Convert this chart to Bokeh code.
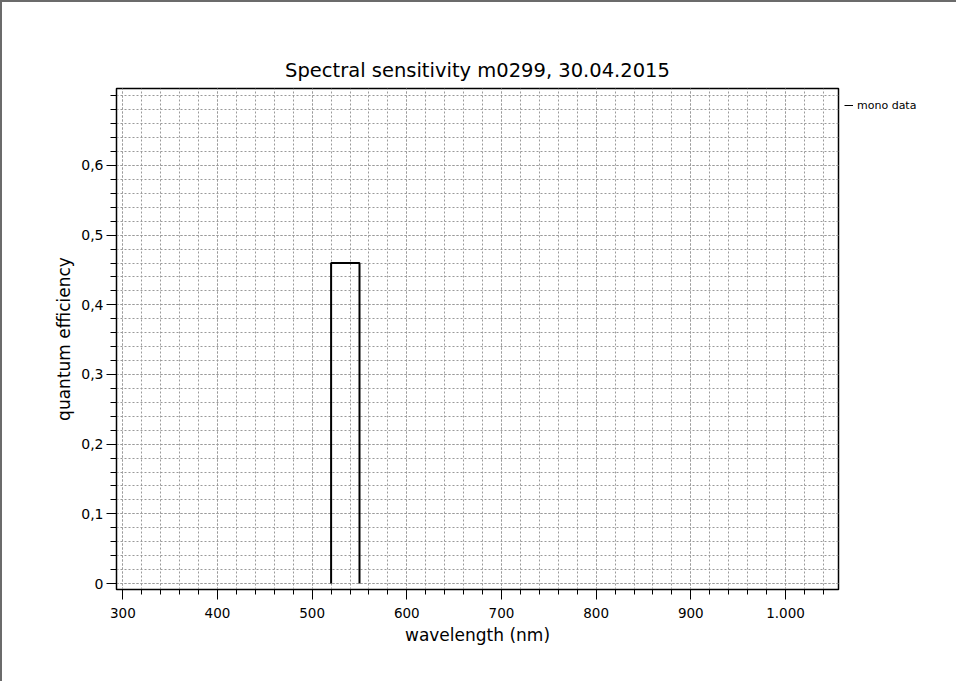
from bokeh.plotting import figure
from bokeh.layouts import row
from bokeh.models import FixedTicker, Range1d, Legend, LegendItem
from bokeh.embed import file_html
from bokeh.resources import INLINE

# data
wavelength = [520, 520, 550, 550]
efficiency = [0.0, 0.46, 0.46, 0.0]

# ticks
x_major = [300, 400, 500, 600, 700, 800, 900, 1000]
x_labels = ["300", "400", "500", "600", "700", "800", "900", "1.000"]
x_minor = list(range(300, 1041, 20))
y_major = [0.0, 0.1, 0.2, 0.3, 0.4, 0.5, 0.6]
y_labels = ["0", "0,1", "0,2", "0,3", "0,4", "0,5", "0,6"]
y_minor = [round(i * 0.02, 2) for i in range(36)]

FONT = "DejaVu Sans"
FW, FH = 722, 501
B_TOP, B_BOTTOM = 86, 92

p = figure(frame_width=FW, frame_height=FH,
           x_range=Range1d(293.3, 1056.0), y_range=Range1d(-0.0086, 0.7105),
           output_backend="svg", toolbar_location=None,
           min_border_left=114, min_border_right=6,
           min_border_top=B_TOP, min_border_bottom=B_BOTTOM,
           title="Spectral sensitivity m0299, 30.04.2015")
p.background_fill_color = "white"
p.border_fill_color = "white"
p.outline_line_color = "black"
p.outline_line_width = 1.5
p.outline_line_alpha = 1.0

p.title.align = "center"
p.title.text_font = FONT
p.title.text_font_size = "19.5px"
p.title.text_font_style = "normal"
p.title.text_color = "black"
p.title.standoff = 13

xt = FixedTicker(ticks=x_major, minor_ticks=x_minor)
yt = FixedTicker(ticks=y_major, minor_ticks=y_minor)
p.xaxis.ticker = xt
p.yaxis.ticker = yt
p.xaxis.major_label_overrides = {k: v for k, v in zip(x_major, x_labels)}
p.yaxis.major_label_overrides = {k: v for k, v in zip(y_major, y_labels)}

for ax in (p.xaxis, p.yaxis):
    ax.axis_line_color = "black"
    ax.axis_line_width = 1
    ax.major_tick_line_color = "black"
    ax.minor_tick_line_color = "black"
    ax.major_tick_in = 0
    ax.minor_tick_in = 0
    ax.major_tick_out = 10
    ax.major_label_text_font = FONT
    ax.major_label_text_color = "black"
    ax.axis_label_text_font = FONT
    ax.axis_label_text_font_size = "17px"
    ax.axis_label_text_font_style = "normal"
    ax.axis_label_text_color = "black"
    ax.axis_label_standoff = 4

p.xaxis.major_label_text_font_size = "13.5px"
p.yaxis.major_label_text_font_size = "14px"
p.xaxis.major_label_standoff = 8
p.yaxis.major_label_standoff = 3
p.xaxis.minor_tick_out = 5
p.yaxis.minor_tick_out = 6
p.xaxis.axis_label = "wavelength (nm)"
p.yaxis.axis_label = "quantum efficiency"

for g in (p.xgrid, p.ygrid):
    g.grid_line_color = "#9a9a9a"
    g.grid_line_dash = "2 2"
    g.grid_line_width = 1
    g.minor_grid_line_color = "#9a9a9a"
    g.minor_grid_line_dash = "2 2"
    g.minor_grid_line_width = 1
p.xgrid.ticker = xt
p.ygrid.ticker = yt

p.line(wavelength, efficiency, line_color="black", line_width=2)

# legend panel to the right of the plot, frame aligned with the main frame
p2 = figure(frame_width=112, frame_height=FH,
            x_range=Range1d(0, 1), y_range=Range1d(0, 1),
            x_axis_type=None, y_axis_type=None, output_backend="svg",
            toolbar_location=None, min_border_left=0, min_border_right=0,
            min_border_top=B_TOP, min_border_bottom=B_BOTTOM)
p2.outline_line_color = None
p2.background_fill_color = "white"
p2.border_fill_color = "white"
p2.grid.visible = False
r2 = p2.line(wavelength, efficiency, line_color="black", line_width=1)

legend = Legend(items=[LegendItem(label="mono data", renderers=[r2])],
                location="top_left", border_line_color=None,
                background_fill_alpha=0, label_text_font=FONT,
                label_text_font_size="11px", label_text_color="black",
                glyph_width=9, glyph_height=34, label_height=34,
                padding=0, margin=0, spacing=0, label_standoff=4)
p2.add_layout(legend)

lay = row(p, p2)
lay.styles = {"border-top": "2px solid #6b6b6b", "border-left": "2px solid #6b6b6b"}

open("out.html", "w").write(file_html(lay, INLINE))
